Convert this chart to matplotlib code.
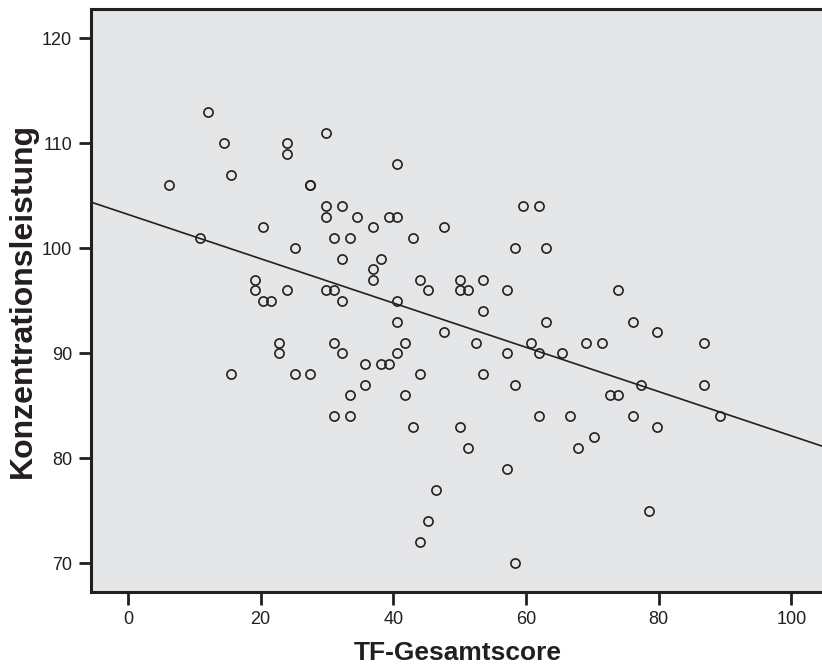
import matplotlib
matplotlib.use("Agg")
import matplotlib.pyplot as plt
import numpy as np

plt.rcParams['font.family'] = ['Liberation Sans', 'DejaVu Sans']

# TF-Gesamtscore vs. Konzentrationsleistung, one entry per person
tf_score = [
    6.2, 10.9, 12.1, 14.5, 15.6, 15.6, 19.2, 19.2, 20.4, 20.4,
    21.6, 22.8, 22.8, 24.0, 24.0, 24.0, 25.2, 25.2, 27.5, 27.5,
    27.5, 29.9, 29.9, 29.9, 29.9, 31.1, 31.1, 31.1, 31.1, 32.3,
    32.3, 32.3, 32.3, 33.5, 33.5, 33.5, 34.6, 35.8, 35.8, 37.0,
    37.0, 37.0, 38.2, 38.2, 39.4, 39.4, 40.6, 40.6, 40.6, 40.6,
    40.6, 41.8, 41.8, 43.0, 43.0, 44.1, 44.1, 44.1, 45.3, 45.3,
    46.5, 47.7, 47.7, 50.1, 50.1, 50.1, 51.3, 51.3, 52.4, 53.6,
    53.6, 53.6, 57.2, 57.2, 57.2, 58.4, 58.4, 58.4, 59.5, 60.8,
    61.9, 61.9, 61.9, 63.0, 63.0, 65.5, 66.7, 67.9, 69.1, 70.2,
    71.4, 72.6, 73.8, 73.8, 76.2, 76.2, 77.3, 78.5, 79.7, 79.7,
    86.8, 86.8, 89.2,
]
konzentration = [
    106, 101, 113, 110, 107, 88, 97, 96, 102, 95,
    95, 91, 90, 110, 109, 96, 100, 88, 106, 106,
    88, 111, 104, 103, 96, 101, 96, 91, 84, 104,
    99, 95, 90, 101, 86, 84, 103, 89, 87, 102,
    98, 97, 99, 89, 103, 89, 108, 103, 95, 93,
    90, 91, 86, 101, 83, 97, 88, 72, 96, 74,
    77, 102, 92, 97, 96, 83, 96, 81, 91, 97,
    94, 88, 96, 90, 79, 100, 87, 70, 104, 91,
    104, 90, 84, 100, 93, 90, 84, 81, 91, 82,
    91, 86, 96, 86, 93, 84, 87, 75, 92, 83,
    91, 87, 84,
]

# regression line (Konzentrationsleistung = a + b * TF-Gesamtscore)
fit_intercept = 103.24
fit_slope = -0.211

x_ticks = [0, 20, 40, 60, 80, 100]
y_ticks = [70, 80, 90, 100, 110, 120]

fig = plt.figure(figsize=(8.22, 6.64), dpi=100)
ax = fig.add_axes([0.1103, 0.108, 0.8920, 0.879])
ax.set_facecolor('#e5e6e8')

ax.plot(tf_score, konzentration, linestyle='none', marker='o',
        markersize=6.6, markerfacecolor='none', markeredgecolor='#231f20',
        markeredgewidth=1.2, zorder=3)

xlim = (-5.6, 104.9)
fit_x = np.array(xlim)
ax.plot(fit_x, fit_intercept + fit_slope * fit_x, color='#231f20', linewidth=1.2, zorder=2)

ax.set_xlim(*xlim)
ax.set_ylim(67.24, 122.84)
ax.set_xticks(x_ticks)
ax.set_yticks(y_ticks)

for side in ['left', 'bottom', 'top', 'right']:
    ax.spines[side].set_linewidth(2.2)
    ax.spines[side].set_color('#231f20')

ax.tick_params(axis='both', direction='out', length=9, width=2,
               color='#231f20', labelcolor='#231f20', labelsize=13, pad=4.5)

ax.set_xlabel('TF-Gesamtscore', fontsize=19, fontweight='bold',
              color='#231f20', labelpad=9.5)
ax.set_ylabel('Konzentrationsleistung', fontsize=23, fontweight='bold',
              color='#231f20', labelpad=3)

fig.savefig('out.png', dpi=100)
